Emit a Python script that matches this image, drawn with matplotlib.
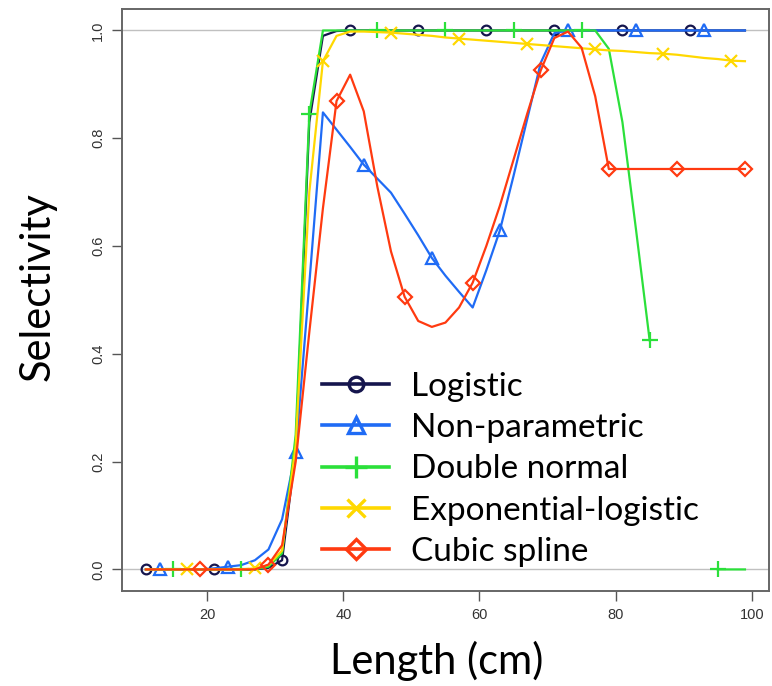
import numpy as np
import matplotlib
matplotlib.use("Agg")
import matplotlib.pyplot as plt
from matplotlib.lines import Line2D

# Length bins (cm)
length = list(range(11, 100, 2))

logistic = [0, 0, 0, 0, 0, 0, 0, 0, 0, 0.003,
            0.017, 0.22, 0.83, 0.99, 0.999, 1, 1, 1, 1, 1,
            1, 1, 1, 1, 1, 1, 1, 1, 1, 1,
            1, 1, 1, 1, 1, 1, 1, 1, 1, 1,
            1, 1, 1, 1, 1]

non_parametric = [0, 0, 0, 0, 0, 0.002, 0.005, 0.008, 0.017, 0.037,
                  0.093, 0.218, 0.53, 0.848, 0.816, 0.784, 0.751, 0.725, 0.699, 0.66,
                  0.62, 0.578, 0.545, 0.515, 0.486, 0.555, 0.629, 0.73, 0.835, 0.94,
                  0.995, 1, 1, 1, 1, 1, 1, 1, 1, 1,
                  1, 1, 1, 1, 1]

double_normal = [0, 0, 0, 0, 0, 0, 0, 0, 0, 0.005,
                 0.03, 0.25, 0.845, 1, 1, 1, 1, 1, 1, 1,
                 1, 1, 1, 1, 1, 1, 1, 1, 1, 1,
                 1, 1, 1, 1, 0.966, 0.83, 0.63, 0.425, np.nan, np.nan,
                 np.nan, np.nan, 0, 0, 0]

exp_logistic = [0, 0, 0, 0, 0, 0, 0, 0, 0.002, 0.008,
                0.035, 0.23, 0.70, 0.943, 0.99, 0.998, 0.998, 0.997, 0.996, 0.994,
                0.992, 0.99, 0.987, 0.985, 0.983, 0.981, 0.979, 0.977, 0.975, 0.973,
                0.971, 0.969, 0.967, 0.965, 0.963, 0.962, 0.960, 0.958, 0.957, 0.955,
                0.952, 0.949, 0.947, 0.944, 0.943]

cubic_spline = [0, 0, 0, 0, 0, 0, 0, 0, 0, 0.009,
                0.045, 0.2, 0.44, 0.67, 0.869, 0.918, 0.85, 0.71, 0.59, 0.506,
                0.461, 0.45, 0.458, 0.486, 0.532, 0.6, 0.675, 0.76, 0.845, 0.926,
                0.986, 0.998, 0.968, 0.878, 0.743, 0.743, 0.743, 0.743, 0.743, 0.743,
                0.743, 0.743, 0.743, 0.743, 0.743]

series_names = ["Logistic", "Non-parametric", "Double normal",
                "Exponential-logistic", "Cubic spline"]
series_values = [logistic, non_parametric, double_normal, exp_logistic, cubic_spline]
colors = ["#15154d", "#1f6bf5", "#2be03a", "#ffd800", "#ff3a10"]
markers = ["o", "^", "+", "x", "D"]
msizes = [7, 8, 11, 9, 7]
y_ticks = [0.0, 0.2, 0.4, 0.6, 0.8, 1.0]
x_ticks = [20, 40, 60, 80, 100]

fig = plt.figure(figsize=(7.72, 6.86), dpi=100)
ax = fig.add_axes([0.158, 0.1385, 0.838, 0.8485])

ax.axhline(0, color="#c0c0c0", lw=1.0, zorder=1)
ax.axhline(1, color="#c0c0c0", lw=1.0, zorder=1)

for i, (vals, c, m, ms) in enumerate(zip(series_values, colors, markers, msizes)):
    ax.plot(length, vals, color=c, lw=1.6, marker=m, markersize=ms,
            markevery=(i, 5), markerfacecolor="none", markeredgecolor=c,
            markeredgewidth=1.6, zorder=2 + i)

ax.set_xlim(7.48, 102.52)
ax.set_ylim(-0.04, 1.04)
ax.set_xticks(x_ticks)
ax.set_yticks(y_ticks)
ax.set_xticklabels([str(t) for t in x_ticks], fontsize=10.5,
                   family="Liberation Sans", color="#333333")
ax.set_yticklabels([f"{t:.1f}" for t in y_ticks], fontsize=10.5,
                   family="Liberation Sans", color="#333333",
                   rotation=90, va="center")
ax.tick_params(direction="out", length=7, width=1.0, color="#555555", pad=5)
for s in ax.spines.values():
    s.set_color("#666666")
    s.set_linewidth(1.4)

fig.text(0.566, 0.037, "Length (cm)", fontsize=30, family="Lato", ha="center", va="center")
fig.text(0.049, 0.582, "Selectivity", fontsize=30, family="Lato", ha="center",
         va="center", rotation=90)

handles = [Line2D([], [], color=c, lw=2.6, marker=m, markersize=ms * 1.5,
                  markerfacecolor="none", markeredgecolor=c, markeredgewidth=2.4)
           for c, m, ms in zip(colors, markers, msizes)]
leg = ax.legend(handles, series_names, loc="upper left",
                bbox_to_anchor=(0.3096, 0.377), frameon=False,
                prop={"family": "Lato", "size": 24},
                handlelength=2.0, handletextpad=0.65, labelspacing=0.34,
                borderpad=0, borderaxespad=0)

fig.savefig("out.png", dpi=100)
